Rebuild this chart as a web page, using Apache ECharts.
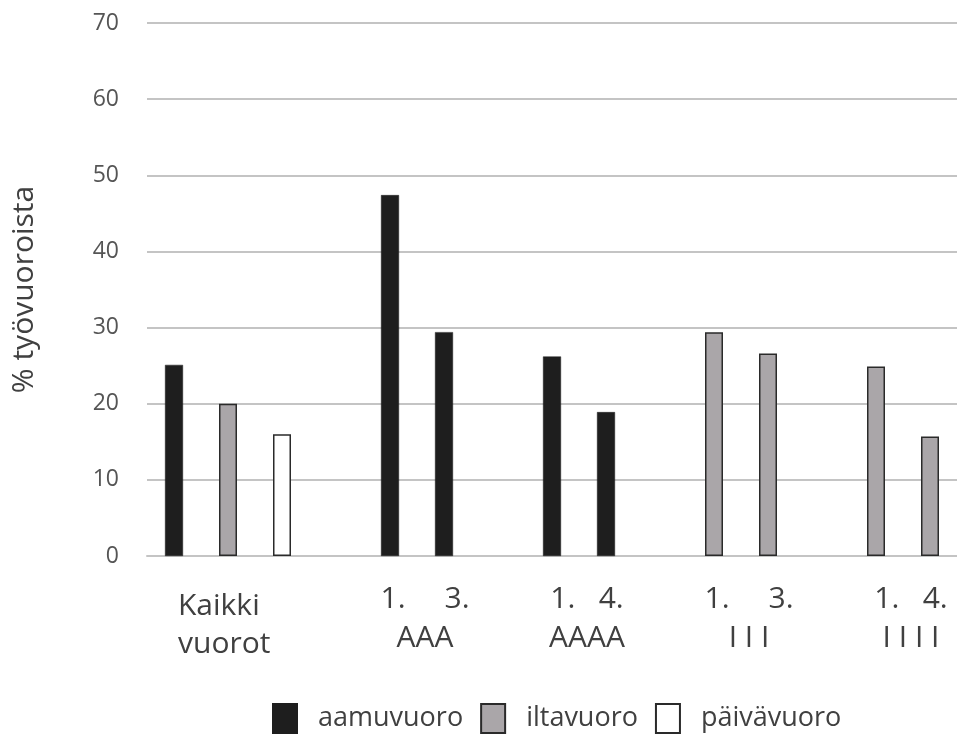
<!DOCTYPE html>
<html>
<head>
<meta charset="utf-8">
<script src="https://cdn.jsdelivr.net/npm/echarts@6/dist/echarts.min.js"></script>
<style>
html,body{margin:0;padding:0;background:#fff;}
#chart{width:957px;height:735px;}
</style>
</head>
<body>
<div id="chart"></div>
<script>
// ---- data ----
const categories = ['Kaikki aamu', 'Kaikki ilta', 'Kaikki päivä', 'väli 1', 'AAA 1.', 'AAA 3.', 'väli 2', 'AAAA 1.', 'AAAA 4.', 'väli 3', 'III 1.', 'III 3.', 'väli 4', 'IIII 1.', 'IIII 4.'];
const aamuvuoro = [25.1, null, null, null, 47.4, 29.4, null, 26.2, 18.9, null, null, null, null, null, null];
const iltavuoro = [null, 20.0, null, null, null, null, null, null, null, null, 29.4, 26.6, null, 24.9, 15.7];
const paivavuoro = [null, null, 16.0, null, null, null, null, null, null, null, null, null, null, null, null];
const seriesNames = ['aamuvuoro', 'iltavuoro', 'päivävuoro'];
const yTicks = [0, 10, 20, 30, 40, 50, 60, 70];
const yAxisName = '% työvuoroista';
const allLabelLines = ['Kaikki', 'vuorot'];
const groupNames = ['AAA', 'AAAA', 'I I I', 'I I I I'];
const groupShiftRows = ['1.     3.', '1.   4.', '1.     3.', '1.   4.'];
const groupSlots = [[4, 5], [7, 8], [10, 11], [13, 14]];

const FONT = '"Open Sans", "Noto Sans", sans-serif';
const chart = echarts.init(document.getElementById('chart'), null, {renderer: 'canvas'});

const option = {
  animation: false,
  backgroundColor: '#ffffff',
  textStyle: {fontFamily: FONT},
  grid: {left: 147, top: 23, width: 819, bottom: 179, containLabel: false},
  legend: {
    left: 272, top: 703, padding: 0,
    itemWidth: 24, itemHeight: 29, itemGap: 17,
    icon: 'rect',
    data: seriesNames,
    textStyle: {fontFamily: FONT, fontSize: 27, color: '#404040', padding: [0, 0, 0, 16]}
  },
  xAxis: {
    type: 'category',
    data: categories,
    axisLine: {show: true, lineStyle: {color: '#c4c4c4', width: 2}},
    axisTick: {show: false},
    axisLabel: {show: false},
    splitLine: {show: false}
  },
  yAxis: {
    type: 'value',
    min: yTicks[0], max: yTicks[yTicks.length - 1], interval: 10,
    name: yAxisName,
    nameLocation: 'middle',
    nameRotate: 90,
    nameGap: 108,
    nameTextStyle: {fontFamily: FONT, fontSize: 30, color: '#404040'},
    axisLine: {show: false},
    axisTick: {show: false},
    axisLabel: {fontFamily: FONT, fontSize: 23, color: '#555555', margin: 28},
    splitLine: {show: true, lineStyle: {color: '#c4c4c4', width: 2}}
  },
  series: [
    {name: seriesNames[0], type: 'bar', data: aamuvuoro, barWidth: 18, barGap: '-100%',
     itemStyle: {color: '#1e1e1e', borderColor: '#1e1e1e', borderWidth: 0.5}},
    {name: seriesNames[1], type: 'bar', data: iltavuoro, barWidth: 18, barGap: '-100%',
     itemStyle: {color: '#aaa6a9', borderColor: '#2a2a2a', borderWidth: 1.5}},
    {name: seriesNames[2], type: 'bar', data: paivavuoro, barWidth: 18, barGap: '-100%',
     itemStyle: {color: '#ffffff', borderColor: '#2a2a2a', borderWidth: 1.5}}
  ]
};
chart.setOption(option);

// category text under the axis, positioned from the axis scale
const y0 = chart.convertToPixel({yAxisIndex: 0}, 0);
const px = i => chart.convertToPixel({xAxisIndex: 0}, i);
const txtStyle = (text, align) => ({
  text: text, fill: '#404040', font: '30px ' + FONT,
  textAlign: align, textVerticalAlign: 'middle'
});
const graphics = [];
graphics.push({type: 'text', x: px(0) + 4, y: y0 + 50, style: txtStyle(allLabelLines[0], 'left'), silent: true});
graphics.push({type: 'text', x: px(0) + 4, y: y0 + 88, style: txtStyle(allLabelLines[1], 'left'), silent: true});
groupNames.forEach((g, k) => {
  const mid = (px(groupSlots[k][0]) + px(groupSlots[k][1])) / 2 + 8;
  graphics.push({type: 'text', x: mid, y: y0 + 43, style: txtStyle(groupShiftRows[k], 'center'), silent: true});
  graphics.push({type: 'text', x: mid, y: y0 + 82, style: txtStyle(g, 'center'), silent: true});
});
chart.setOption({graphic: graphics});
</script>
</body>
</html>
